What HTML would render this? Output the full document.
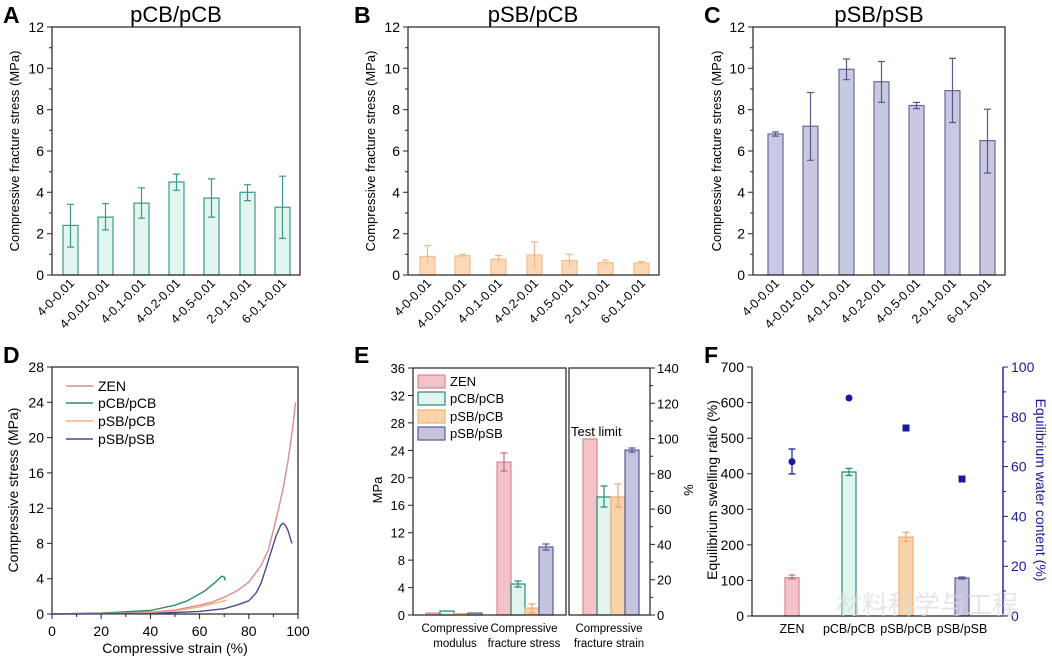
<!DOCTYPE html>
<html><head><meta charset="utf-8"><style>
html,body{margin:0;padding:0;background:#fff}
svg{display:block;font-family:"Liberation Sans","Noto Sans CJK SC",sans-serif}
</style></head><body>
<svg width="1052" height="659" viewBox="0 0 1052 659" xmlns="http://www.w3.org/2000/svg">
<rect width="1052" height="659" fill="#fff"/>

<!-- ===== Panel A ===== -->
<text x="3" y="23" font-size="23" font-weight="bold">A</text>
<text x="176" y="22" font-size="22" text-anchor="middle">pCB/pCB</text>
<g fill="#e2f6ef" stroke="#3a9a88" stroke-width="1.2">
<rect x="63" y="225.4" width="15" height="49.6"/><rect x="98" y="217.1" width="15" height="57.9"/>
<rect x="134" y="203.1" width="15" height="71.9"/><rect x="169" y="182" width="15" height="93"/>
<rect x="204" y="198.1" width="15" height="76.9"/><rect x="240" y="192.3" width="15" height="82.7"/>
<rect x="275" y="207.2" width="15" height="67.8"/>
</g>
<g stroke="#3a9a88" stroke-width="1.2" fill="none">
<path d="M70.5 247.1V204.3M67 247.1h7M67 204.3h7"/>
<path d="M105.5 229.9V203.7M102 229.9h7M102 203.7h7"/>
<path d="M141.5 218.2V187.8M138 218.2h7M138 187.8h7"/>
<path d="M176.5 190.3V174.1M173 190.3h7M173 174.1h7"/>
<path d="M211.5 217.1V178.9M208 217.1h7M208 178.9h7"/>
<path d="M247.5 200.6V184.7M244 200.6h7M244 184.7h7"/>
<path d="M282.5 238.4V176.2M279 238.4h7M279 176.2h7"/>
</g>
<rect x="52" y="27" width="248" height="248" fill="none" stroke="#222" stroke-width="1.2"/>
<g stroke="#222" stroke-width="1"><path d="M52 275h-5M52 233.7h-5M52 192.3h-5M52 151h-5M52 109.7h-5M52 68.3h-5M52 27h-5M52 254.3h-3M52 213h-3M52 171.7h-3M52 130.3h-3M52 89h-3M52 47.7h-3"/></g>
<g font-size="14" text-anchor="end"><text x="44" y="280">0</text><text x="44" y="238.7">2</text><text x="44" y="197.3">4</text><text x="44" y="156">6</text><text x="44" y="114.7">8</text><text x="44" y="73.3">10</text><text x="44" y="32">12</text></g>
<text transform="translate(19,151) rotate(-90)" font-size="13" text-anchor="middle">Compressive fracture stress (MPa)</text>
<g font-size="12.5" text-anchor="end">
<text transform="translate(75,284) rotate(-45)">4-0-0.01</text>
<text transform="translate(110,284) rotate(-45)">4-0.01-0.01</text>
<text transform="translate(146,284) rotate(-45)">4-0.1-0.01</text>
<text transform="translate(181,284) rotate(-45)">4-0.2-0.01</text>
<text transform="translate(216,284) rotate(-45)">4-0.5-0.01</text>
<text transform="translate(252,284) rotate(-45)">2-0.1-0.01</text>
<text transform="translate(287,284) rotate(-45)">6-0.1-0.01</text>
</g>

<!-- ===== Panel B ===== -->
<text x="354" y="23" font-size="23" font-weight="bold">B</text>
<text x="533" y="22" font-size="22" text-anchor="middle">pSB/pCB</text>
<g fill="#fbd9b8" stroke="#f3be8e" stroke-width="1.2">
<rect x="420" y="256.4" width="15" height="18.6"/><rect x="455" y="255.8" width="15" height="19.2"/>
<rect x="491" y="259.1" width="15" height="15.9"/><rect x="527" y="255" width="15" height="20"/>
<rect x="562" y="260.5" width="15" height="14.5"/><rect x="598" y="262.6" width="15" height="12.4"/>
<rect x="634" y="263" width="15" height="12"/>
</g>
<g stroke="#f0b888" stroke-width="1.2" fill="none">
<path d="M427.5 264.1V245.6M424 245.6h7"/><path d="M462.5 257.4V254.3M459 254.3h7"/>
<path d="M498.5 262.6V255.4M495 255.4h7"/><path d="M534.5 269.2V241.9M531 241.9h7"/>
<path d="M569.5 266.7V254.3M566 254.3h7"/><path d="M605.5 264.7V260.1M602 260.1h7"/>
<path d="M641.5 264.7V261.6M638 261.6h7"/>
</g>
<rect x="408" y="27" width="251" height="248" fill="none" stroke="#222" stroke-width="1.2"/>
<g stroke="#222" stroke-width="1"><path d="M408 275h-5M408 233.7h-5M408 192.3h-5M408 151h-5M408 109.7h-5M408 68.3h-5M408 27h-5M408 254.3h-3M408 213h-3M408 171.7h-3M408 130.3h-3M408 89h-3M408 47.7h-3"/></g>
<g font-size="14" text-anchor="end"><text x="400" y="280">0</text><text x="400" y="238.7">2</text><text x="400" y="197.3">4</text><text x="400" y="156">6</text><text x="400" y="114.7">8</text><text x="400" y="73.3">10</text><text x="400" y="32">12</text></g>
<text transform="translate(375,151) rotate(-90)" font-size="13" text-anchor="middle">Compressive fracture stress (MPa)</text>
<g font-size="12.5" text-anchor="end">
<text transform="translate(432,284) rotate(-45)">4-0-0.01</text>
<text transform="translate(467,284) rotate(-45)">4-0.01-0.01</text>
<text transform="translate(503,284) rotate(-45)">4-0.1-0.01</text>
<text transform="translate(539,284) rotate(-45)">4-0.2-0.01</text>
<text transform="translate(574,284) rotate(-45)">4-0.5-0.01</text>
<text transform="translate(610,284) rotate(-45)">2-0.1-0.01</text>
<text transform="translate(646,284) rotate(-45)">6-0.1-0.01</text>
</g>

<!-- ===== Panel C ===== -->
<text x="704" y="23" font-size="23" font-weight="bold">C</text>
<text x="879" y="22" font-size="22" text-anchor="middle">pSB/pSB</text>
<g fill="#c8c8e2" stroke="#6a6a9a" stroke-width="1.2">
<rect x="768" y="134" width="15" height="141"/><rect x="803" y="126.2" width="15" height="148.8"/>
<rect x="839" y="69.3" width="15" height="205.7"/><rect x="874" y="81.7" width="15" height="193.3"/>
<rect x="909" y="105.5" width="15" height="169.5"/><rect x="945" y="90.6" width="15" height="184.4"/>
<rect x="980" y="140.6" width="15" height="134.4"/>
</g>
<g stroke="#5a5a8a" stroke-width="1.2" fill="none">
<path d="M775.5 136.1V132M772 136.1h7M772 132h7"/>
<path d="M810.5 160.3V92.5M807 160.3h7M807 92.5h7"/>
<path d="M846.5 79.7V59M843 79.7h7M843 59h7"/>
<path d="M881.5 102.4V61.5M878 102.4h7M878 61.5h7"/>
<path d="M916.5 108.6V102.4M913 108.6h7M913 102.4h7"/>
<path d="M952.5 122.5V58.4M949 122.5h7M949 58.4h7"/>
<path d="M987.5 173.1V109.2M984 173.1h7M984 109.2h7"/>
</g>
<rect x="753" y="27" width="252" height="248" fill="none" stroke="#222" stroke-width="1.2"/>
<g stroke="#222" stroke-width="1"><path d="M753 275h-5M753 233.7h-5M753 192.3h-5M753 151h-5M753 109.7h-5M753 68.3h-5M753 27h-5M753 254.3h-3M753 213h-3M753 171.7h-3M753 130.3h-3M753 89h-3M753 47.7h-3"/></g>
<g font-size="14" text-anchor="end"><text x="745" y="280">0</text><text x="745" y="238.7">2</text><text x="745" y="197.3">4</text><text x="745" y="156">6</text><text x="745" y="114.7">8</text><text x="745" y="73.3">10</text><text x="745" y="32">12</text></g>
<text transform="translate(721,151) rotate(-90)" font-size="13" text-anchor="middle">Compressive fracture stress (MPa)</text>
<g font-size="12.5" text-anchor="end">
<text transform="translate(780,284) rotate(-45)">4-0-0.01</text>
<text transform="translate(815,284) rotate(-45)">4-0.01-0.01</text>
<text transform="translate(851,284) rotate(-45)">4-0.1-0.01</text>
<text transform="translate(886,284) rotate(-45)">4-0.2-0.01</text>
<text transform="translate(921,284) rotate(-45)">4-0.5-0.01</text>
<text transform="translate(957,284) rotate(-45)">2-0.1-0.01</text>
<text transform="translate(992,284) rotate(-45)">6-0.1-0.01</text>
</g>

<!-- ===== Panel D ===== -->
<text x="3" y="363" font-size="23" font-weight="bold">D</text>
<rect x="52" y="367" width="246" height="247" fill="none" stroke="#222" stroke-width="1.2"/>
<g fill="none" stroke-width="1.4" stroke-linejoin="round">
<path stroke="#e08a8f" d="M52 614L101.2 613.4L150.4 612.2L175 610L199.6 605.2L211.9 602.1L224.2 597.2L236.5 591.1L248.8 582.2L261.1 565.5L268.5 549.6L273.4 530.2L278.3 509.9L283.2 487.9L288.2 459.7L293.1 424.4L295.5 402.3"/>
<path stroke="#2a8a70" d="M52 614L101.2 613.1L150.4 610.5L175 605.2L187.3 600.8L204.5 591.1L214.4 583.1L221.7 576.1L224.2 577L225.4 580.5"/>
<path stroke="#f0b07a" d="M52 614L150.4 613.1L175 610.9L199.6 606.9L224.2 600.8L226.7 599.9"/>
<path stroke="#4a4a8e" d="M52 614L150.4 613.6L199.6 611.4L224.2 608.7L236.5 605.2L248.8 600.8L256.2 592.8L261.1 583.1L266 568.1L270.9 552.3L275.9 536.4L280.8 524.9L283.2 523.2L285.7 525.8L288.2 531.1L291.9 543.4"/>
</g>
<g stroke="#222" stroke-width="1">
<path d="M52 614h-5M52 578.7h-5M52 543.4h-5M52 508.2h-5M52 472.9h-5M52 437.6h-5M52 402.3h-5M52 367h-5"/>
<path d="M52 614v5M101.2 614v5M150.4 614v5M199.6 614v5M248.8 614v5M298 614v5M76.6 614v3M125.8 614v3M175 614v3M224.2 614v3M273.4 614v3"/>
</g>
<g font-size="14" text-anchor="end"><text x="44" y="619">0</text><text x="44" y="583.7">4</text><text x="44" y="548.4">8</text><text x="44" y="513.2">12</text><text x="44" y="477.9">16</text><text x="44" y="442.6">20</text><text x="44" y="407.3">24</text><text x="44" y="372">28</text></g>
<g font-size="14" text-anchor="middle"><text x="52" y="636">0</text><text x="101.2" y="636">20</text><text x="150.4" y="636">40</text><text x="199.6" y="636">60</text><text x="248.8" y="636">80</text><text x="298" y="636">100</text></g>
<text x="175" y="653" font-size="14" text-anchor="middle">Compressive strain (%)</text>
<text transform="translate(18,490) rotate(-90)" font-size="14" text-anchor="middle">Compressive stress (MPa)</text>
<g stroke-width="1.4"><path stroke="#e08a8f" d="M66 386h27"/><path stroke="#2a8a70" d="M66 403h27"/><path stroke="#f0b07a" d="M66 421h27"/><path stroke="#4a4a8e" d="M66 439h27"/></g>
<g font-size="14"><text x="98" y="391">ZEN</text><text x="98" y="408">pCB/pCB</text><text x="98" y="426">pSB/pCB</text><text x="98" y="444">pSB/pSB</text></g>

<!-- ===== Panel E ===== -->
<text x="354" y="363" font-size="23" font-weight="bold">E</text>
<g stroke-width="1.2">
<rect x="426" y="613" width="14" height="2" fill="#f4c2c9" stroke="#d98890"/>
<rect x="440" y="611" width="14" height="4" fill="#dff5ee" stroke="#2a8a7a"/>
<rect x="454" y="613.6" width="14" height="1.4" fill="#fbd3a8" stroke="#f0b07a"/>
<rect x="468" y="613" width="14" height="2" fill="#c4c4e0" stroke="#5a5a90"/>
<rect x="497" y="462" width="14" height="153" fill="#f4c2c9" stroke="#d98890"/>
<rect x="511" y="584" width="14" height="31" fill="#dff5ee" stroke="#2a8a7a"/>
<rect x="525" y="608" width="14" height="7" fill="#fbd3a8" stroke="#f0b07a"/>
<rect x="539" y="547" width="14" height="68" fill="#c4c4e0" stroke="#5a5a90"/>
<rect x="583" y="439" width="14" height="176" fill="#f4c2c9" stroke="#d98890"/>
<rect x="597" y="497" width="14" height="118" fill="#dff5ee" stroke="#2a8a7a"/>
<rect x="611" y="497" width="14" height="118" fill="#fbd3a8" stroke="#f0b07a"/>
<rect x="625" y="450" width="14" height="165" fill="#c4c4e0" stroke="#5a5a90"/>
</g>
<g fill="none" stroke-width="1.2">
<path stroke="#c0707a" d="M504 471V453M500.5 471h7M500.5 453h7"/>
<path stroke="#2a8a7a" d="M518 587V581M514.5 587h7M514.5 581h7M604 507V486M600.5 507h7M600.5 486h7"/>
<path stroke="#e8a870" d="M532 613V604M528.5 613h7M528.5 604h7M618 507V484M614.5 507h7M614.5 484h7"/>
<path stroke="#5a5a90" d="M546 550V544M542.5 550h7M542.5 544h7M632 452V448M628.5 452h7M628.5 448h7"/>
</g>
<rect x="413" y="368" width="153" height="247" fill="none" stroke="#222" stroke-width="1.2"/>
<rect x="569" y="368" width="81" height="247" fill="none" stroke="#222" stroke-width="1.2"/>
<g stroke="#222" stroke-width="1">
<path d="M413 615h-5M413 587.6h-5M413 560.1h-5M413 532.7h-5M413 505.2h-5M413 477.8h-5M413 450.4h-5M413 422.9h-5M413 395.5h-5M413 368h-5"/>
<path d="M650 615h5M650 579.7h5M650 544.4h5M650 509.1h5M650 473.8h5M650 438.6h5M650 403.3h5M650 368h5M650 597.4h3M650 562h3M650 526.8h3M650 491.4h3M650 456.2h3M650 421h3M650 385.6h3"/>
</g>
<g font-size="13" text-anchor="end"><text x="405" y="620">0</text><text x="405" y="592.6">4</text><text x="405" y="565.1">8</text><text x="405" y="537.7">12</text><text x="405" y="510.2">16</text><text x="405" y="482.8">20</text><text x="405" y="455.4">24</text><text x="405" y="427.9">28</text><text x="405" y="400.5">32</text><text x="405" y="373">36</text></g>
<g font-size="13"><text x="657" y="620">0</text><text x="657" y="584.7">20</text><text x="657" y="549.4">40</text><text x="657" y="514.1">60</text><text x="657" y="478.8">80</text><text x="657" y="443.6">100</text><text x="657" y="408.3">120</text><text x="657" y="373">140</text></g>
<text transform="translate(382,490) rotate(-90)" font-size="13" text-anchor="middle">MPa</text>
<text transform="translate(684,490) rotate(90)" font-size="13" text-anchor="middle">%</text>
<text x="571" y="436" font-size="13">Test limit</text>
<g stroke-width="1.2">
<rect x="418" y="375" width="27" height="13" fill="#f4c2c9" stroke="#d98890"/>
<rect x="418" y="392" width="27" height="13" fill="#dff5ee" stroke="#2a8a7a"/>
<rect x="418" y="410" width="27" height="13" fill="#fbd3a8" stroke="#f0b07a"/>
<rect x="418" y="427" width="27" height="13" fill="#c4c4e0" stroke="#5a5a90"/>
</g>
<g font-size="13"><text x="450" y="386">ZEN</text><text x="450" y="403">pCB/pCB</text><text x="450" y="421">pSB/pCB</text><text x="450" y="438">pSB/pSB</text></g>
<g font-size="11.5" text-anchor="middle">
<text x="455" y="632">Compressive</text><text x="455" y="647">modulus</text>
<text x="524" y="632">Compressive</text><text x="524" y="647">fracture stress</text>
<text x="609" y="632">Compressive</text><text x="609" y="647">fracture strain</text>
</g>

<!-- ===== Panel F ===== -->
<text x="704" y="363" font-size="23" font-weight="bold">F</text>
<g stroke-width="1.2">
<rect x="785" y="577.6" width="14" height="38.4" fill="#f4c2c9" stroke="#d98890"/>
<rect x="842" y="472" width="14" height="144" fill="#dff5ee" stroke="#2a8a7a"/>
<rect x="899" y="537" width="14" height="79" fill="#fbd3a8" stroke="#f0b07a"/>
<rect x="955" y="578" width="14" height="38" fill="#c4c4e0" stroke="#5a5a90"/>
</g>
<g fill="none" stroke-width="1.2">
<path stroke="#c0707a" d="M792 579V575M788.5 579h7M788.5 575h7"/>
<path stroke="#2a8a7a" d="M849 475.5V468.4M845.5 475.5h7M845.5 468.4h7"/>
<path stroke="#e8a870" d="M906 541.3V532.4M902.5 541.3h7M902.5 532.4h7"/>
<path stroke="#5a5a90" d="M962 579V577M958.5 579h7M958.5 577h7"/>
<path stroke="#1a1a9a" d="M792 474V449M788.5 474h7M788.5 449h7"/>
</g>
<g fill="#1a1a9a"><circle cx="792" cy="461.6" r="3.5"/><circle cx="849" cy="398" r="3.5"/><rect x="902.5" y="424.5" width="7" height="7"/><rect x="958.5" y="475.5" width="7" height="7"/></g>
<path d="M752 367V616H1003" fill="none" stroke="#222" stroke-width="1.2"/>
<path d="M1003 367V616" stroke="#1a1a9a" stroke-width="1.4"/>
<g stroke="#222" stroke-width="1"><path d="M752 616h-5M752 580.4h-5M752 544.9h-5M752 509.3h-5M752 473.7h-5M752 438.2h-5M752 402.6h-5M752 367h-5"/></g>
<g stroke="#1a1a9a" stroke-width="1"><path d="M1003 616h5M1003 566.2h5M1003 516.4h5M1003 466.6h5M1003 416.8h5M1003 367h5M1003 591h3M1003 541.3h3M1003 491.5h3M1003 441.7h3M1003 391.9h3"/></g>
<g font-size="14" text-anchor="end"><text x="744" y="621">0</text><text x="744" y="585.4">100</text><text x="744" y="549.9">200</text><text x="744" y="514.3">300</text><text x="744" y="478.7">400</text><text x="744" y="443.2">500</text><text x="744" y="407.6">600</text><text x="744" y="372">700</text></g>
<g font-size="14" fill="#1a1a9a"><text x="1011" y="621">0</text><text x="1011" y="571.2">20</text><text x="1011" y="521.4">40</text><text x="1011" y="471.6">60</text><text x="1011" y="421.8">80</text><text x="1011" y="372">100</text></g>
<text transform="translate(717,490) rotate(-90)" font-size="14" text-anchor="middle">Equilibrium swelling ratio (%)</text>
<text transform="translate(1036,490) rotate(90)" font-size="14" text-anchor="middle" fill="#1a1a9a">Equilibrium water content (%)</text>
<g font-size="12.5" text-anchor="middle"><text x="792" y="633">ZEN</text><text x="849" y="633">pCB/pCB</text><text x="906" y="633">pSB/pCB</text><text x="962" y="633">pSB/pSB</text></g>
<text x="836" y="614" font-size="26" fill="#dcdcdc" fill-opacity="0.7">材料科学与工程</text>
</svg>
</body></html>
